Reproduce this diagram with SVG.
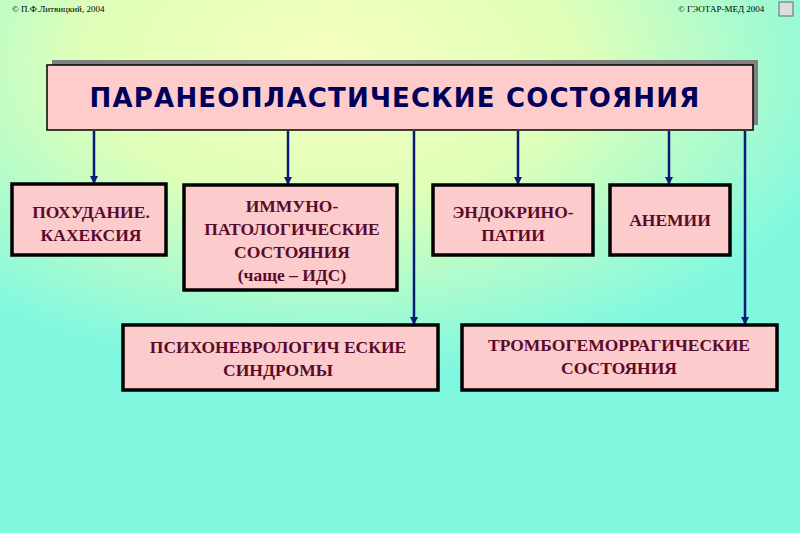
<svg xmlns="http://www.w3.org/2000/svg" width="800" height="533" viewBox="0 0 800 533">
<defs>
<radialGradient id="bg" cx="330" cy="60" r="420" gradientUnits="userSpaceOnUse" gradientTransform="translate(330 60) scale(1.3 0.75) translate(-330 -60)">
<stop offset="0" stop-color="#f6ffc0"/><stop offset="0.45" stop-color="#e0ffb8"/><stop offset="1" stop-color="#80f8e0"/>
</radialGradient>
<marker id="ah" markerWidth="8" markerHeight="8" refX="7" refY="4" orient="auto" markerUnits="userSpaceOnUse"><path d="M0,0 L8,4 L0,8 Z" fill="#0a1a7a"/></marker>
<style>
.b{fill:#fccccc;stroke:#000;stroke-width:3.5}
.t{font-family:"Liberation Serif",serif;font-weight:bold;font-size:17.5px;fill:#5a0a2a;text-anchor:middle}
.c{stroke:#0a1a7a;stroke-width:2.5;fill:none;marker-end:url(#ah)}
.s{font-family:"Liberation Serif",serif;font-size:9px;fill:#000}
</style>
</defs>
<rect width="800" height="533" fill="#80f8e0"/>
<rect width="800" height="533" fill="url(#bg)"/>
<text class="s" x="12" y="12">© П.Ф.Литвицкий, 2004</text>
<text class="s" x="678" y="12">© ГЭОТАР-МЕД 2004</text>
<rect x="779" y="2" width="14" height="14" fill="#ddd" stroke="#666"/>
<g id="title">
<rect x="52" y="60" width="706" height="65" fill="#808080"/>
<rect x="47" y="65" width="706" height="65" fill="#ffcccc" stroke="#000" stroke-width="1.5"/>
<text x="395" y="107" font-family="'DejaVu Sans',sans-serif" font-weight="bold" font-size="26" fill="#00005a" text-anchor="middle" letter-spacing="1.2">ПАРАНЕОПЛАСТИЧЕСКИЕ  СОСТОЯНИЯ</text>
</g>
<g id="connectors">
<line class="c" x1="94" y1="131" x2="94" y2="183"/>
<line class="c" x1="288" y1="131" x2="288" y2="184"/>
<line class="c" x1="414" y1="131" x2="414" y2="324"/>
<line class="c" x1="518" y1="131" x2="518" y2="184"/>
<line class="c" x1="669" y1="131" x2="669" y2="184"/>
<line class="c" x1="745" y1="131" x2="745" y2="324"/>
</g>
<g id="n1"><rect class="b" x="12" y="184" width="154" height="71"/>
<text class="t" x="91" y="218">ПОХУДАНИЕ.</text><text class="t" x="91" y="241">КАХЕКСИЯ</text></g>
<g id="n2"><rect class="b" x="184" y="185" width="213" height="105"/>
<text class="t" x="292" y="212">ИММУНО-</text><text class="t" x="292" y="235">ПАТОЛОГИЧЕСКИЕ</text><text class="t" x="292" y="258">СОСТОЯНИЯ</text><text class="t" x="292" y="281">(чаще – ИДС)</text></g>
<g id="n3"><rect class="b" x="433" y="185" width="160" height="70"/>
<text class="t" x="513" y="218">ЭНДОКРИНО-</text><text class="t" x="513" y="241">ПАТИИ</text></g>
<g id="n4"><rect class="b" x="610" y="185" width="120" height="70"/>
<text class="t" x="670" y="226">АНЕМИИ</text></g>
<g id="n5"><rect class="b" x="123" y="325" width="315" height="65"/>
<text class="t" x="278" y="353">ПСИХОНЕВРОЛОГИЧ ЕСКИЕ</text><text class="t" x="278" y="376">СИНДРОМЫ</text></g>
<g id="n6"><rect class="b" x="462" y="325" width="315" height="65"/>
<text class="t" x="619" y="351">ТРОМБОГЕМОРРАГИЧЕСКИЕ</text><text class="t" x="619" y="374">СОСТОЯНИЯ</text></g>
</svg>
